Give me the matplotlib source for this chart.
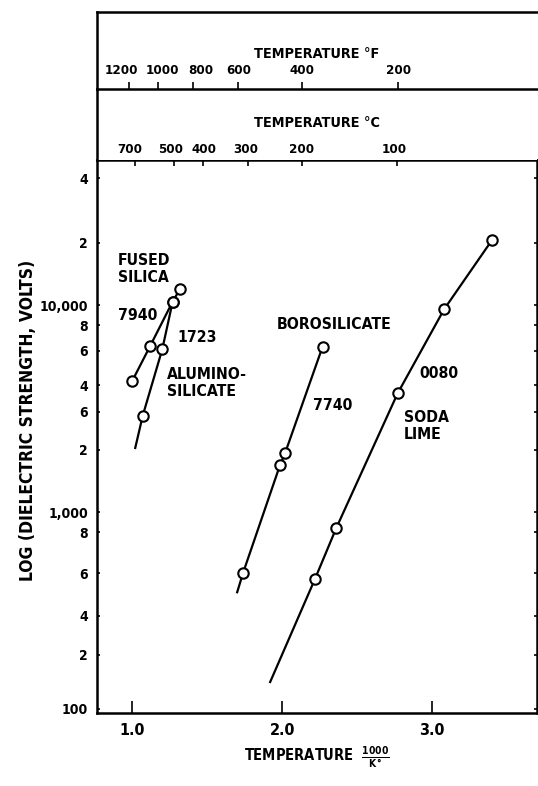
import matplotlib.pyplot as plt
from matplotlib.ticker import NullLocator
import matplotlib.transforms as mtransforms

plt.rcParams['font.family'] = ['DejaVu Sans']
plt.rcParams['font.stretch'] = 'condensed'
plt.rcParams['font.weight'] = 'bold'
plt.rcParams['axes.labelweight'] = 'bold'
plt.rcParams['mathtext.fontset'] = 'dejavusans'

# data (x = 1000/K, y = dielectric strength, volts)
fused_x = [1.00, 1.12, 1.27, 1.32]
fused_y = [4300, 6350, 10400, 12000]
alumino_x = [1.02, 1.07, 1.20, 1.27]
alumino_y = [2040, 2920, 6100, 10400]
boro_x = [1.70, 1.74, 1.985, 2.02, 2.27]
boro_y = [410, 510, 1680, 1930, 6300]
soda_x = [1.92, 2.22, 2.36, 2.77, 3.08, 3.40]
soda_y = [151, 477, 834, 3740, 9530, 20600]

# y tick labels as printed on the original
ytick_pos = [41000, 20000, 10000, 8000, 6000, 4100, 3050, 2000, 1000, 800, 505, 315, 205, 112]
ytick_lab = ['4', '2', '10,000', '8', '6', '4', '6', '2', '1,000', '8', '6', '4', '2', '100']
xtick_pos = [1.0, 2.0, 3.0]
xtick_lab = ['1.0', '2.0', '3.0']

# top scales (tick positions and label positions as drawn on the original)
degf_lab = ['1200', '1000', '800', '600', '400', '200']
degf_pos = [0.981, 1.174, 1.403, 1.707, 2.134, 2.774]
degf_txt = [0.925, 1.199, 1.458, 1.712, 2.132, 2.779]
degc_lab = ['700', '500', '400', '300', '200', '100']
degc_pos = [1.019, 1.281, 1.474, 1.774, 2.134, 2.763]
degc_txt = [0.985, 1.259, 1.479, 1.759, 2.132, 2.745]

W, H = 538, 786
fig = plt.figure(figsize=(W / 100, H / 100), dpi=100)

L, R = 97, 537
y_top, y_f, y_c, y_bot = 12, 88.5, 160, 713
ax = fig.add_axes([L / W, 1 - y_bot / H, (R - L) / W, (y_bot - y_c) / H])
ax_c = fig.add_axes([L / W, 1 - y_c / H, (R - L) / W, (y_c - y_f) / H])
ax_f = fig.add_axes([L / W, 1 - y_f / H, (R - L) / W, (y_f - y_top) / H])

xlim = (0.765, 3.70)
lw = 1.6
mk = dict(marker='o', ms=7.5, mfc='white', mec='black', mew=1.5)

ax.plot(fused_x, fused_y, color='black', lw=lw, **mk)
ax.plot(alumino_x, alumino_y, color='black', lw=lw, markevery=[1, 2, 3], **mk)
ax.plot(boro_x, boro_y, color='black', lw=lw, markevery=[1, 2, 3, 4], **mk)
ax.plot(soda_x, soda_y, color='black', lw=lw, markevery=[1, 2, 3, 4, 5], **mk)

ax.set_yscale('log')
ax.set_xlim(*xlim)
ax.set_ylim(107, 50200)
ax.set_yticks(ytick_pos)
ax.set_yticklabels(ytick_lab)
ax.yaxis.set_minor_locator(NullLocator())
ax.set_xticks(xtick_pos)
ax.set_xticklabels(xtick_lab)
ax.tick_params(axis='y', direction='in', left=True, right=True, length=2.5, width=1.2,
               pad=6.5, labelsize=10)
ax.tick_params(axis='x', direction='in', length=8.5, width=1.2, pad=7, labelsize=11.5)
for s in ax.spines.values():
    s.set_linewidth(1.8)

ax.set_ylabel('LOG (DIELECTRIC STRENGTH, VOLTS)', fontsize=12.5)
ax.yaxis.set_label_coords(-0.137, 0.53)
ax.set_xlabel(r'TEMPERATURE  $\frac{\mathbf{1000}}{\mathbf{K°}}$', fontsize=10.5)
ax.xaxis.set_label_coords(0.5, -0.058)

txt = dict(fontsize=11.3, ha='left', linespacing=1.15)
ax.text(0.905, 17800, 'FUSED\nSILICA', va='top', **txt)
ax.text(0.905, 8950, '7940', va='center', **txt)
ax.text(1.299, 7000, '1723', va='center', **txt)
ax.text(1.232, 5010, 'ALUMINO-\nSILICATE', va='top', **txt)
ax.text(1.965, 8090, 'BOROSILICATE', va='center', **txt)
ax.text(2.205, 3290, '7740', va='center', **txt)
ax.text(2.918, 4690, '0080', va='center', **txt)
ax.text(2.811, 3110, 'SODA\nLIME', va='top', **txt)

# degrees C band: ticks hang down into the plot
ax_c.set_xlim(*xlim)
ax_c.set_ylim(0, 1)
ax_c.set_xticks(degc_pos)
ax_c.set_xticklabels([])
ax_c.set_yticks([])
ax_c.tick_params(axis='x', direction='out', length=4.5, width=1.2)
for k in ['top', 'right', 'bottom']:
    ax_c.spines[k].set_visible(False)
ax_c.spines['left'].set_linewidth(1.8)
trc = mtransforms.blended_transform_factory(ax_c.transData, ax_c.transAxes)
for p, t in zip(degc_txt, degc_lab):
    ax_c.text(p, 0.15, t, transform=trc, ha='center', va='center', fontsize=9.5)
ax_c.text(0.5, 0.52, 'TEMPERATURE °C', transform=ax_c.transAxes, ha='center',
          va='center', fontsize=10.4)

# degrees F band
ax_f.set_xlim(*xlim)
ax_f.set_ylim(0, 1)
ax_f.set_xticks(degf_pos)
ax_f.set_xticklabels([])
ax_f.set_yticks([])
ax_f.tick_params(axis='x', direction='in', length=5, width=1.2)
ax_f.spines['right'].set_visible(False)
for k in ['top', 'left', 'bottom']:
    ax_f.spines[k].set_linewidth(1.8)
trf = mtransforms.blended_transform_factory(ax_f.transData, ax_f.transAxes)
for p, t in zip(degf_txt, degf_lab):
    ax_f.text(p, 0.24, t, transform=trf, ha='center', va='center', fontsize=9.5)
ax_f.text(0.5, 0.45, 'TEMPERATURE °F', transform=ax_f.transAxes, ha='center',
          va='center', fontsize=10.4)

fig.savefig('out.png', dpi=100)
